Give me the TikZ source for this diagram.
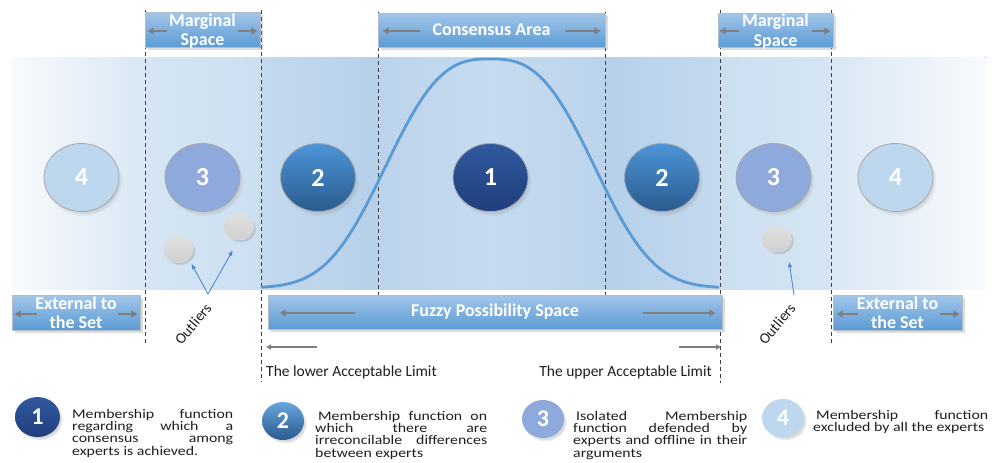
\documentclass[tikz,border=0pt]{standalone}
\usepackage{fontspec}
\setmainfont{Carlito}
\newfontfamily\legendfont[FakeStretch=1.2]{Carlito}
\usetikzlibrary{arrows.meta,shapes.geometric,shadows,fadings,calc}
\tolerance=10000
\hyphenpenalty=10000

% palette
\definecolor{boxtop}{HTML}{A3C6E9}
\definecolor{boxbot}{HTML}{5B9BD5}
\definecolor{boxedge}{HTML}{B4BCC6}
\definecolor{arrowgray}{HTML}{7F7F7F}
\definecolor{dashgray}{HTML}{3F3F3F}
\definecolor{curveblue}{HTML}{5B9BD5}
\definecolor{outblue}{HTML}{4A8BD2}
\definecolor{circedge}{HTML}{A8A8A8}
\definecolor{oneTop}{HTML}{31599F}
\definecolor{oneBot}{HTML}{1F3E7C}
\definecolor{twoTop}{HTML}{4D95D8}
\definecolor{twoBot}{HTML}{2A5B8E}
\definecolor{three}{HTML}{8EA9DB}
\definecolor{four}{HTML}{BDD7EE}
\definecolor{dotTop}{HTML}{E0E0E0}
\definecolor{dotBot}{HTML}{CFCFCF}
\definecolor{txt}{HTML}{1E1E1E}
% band tones
\definecolor{bA}{HTML}{F8FAFD}
\definecolor{bB}{HTML}{D9E7F4}
\definecolor{bC}{HTML}{D5E5F3}
\definecolor{bD}{HTML}{CCDFF1}
\definecolor{bE}{HTML}{C4D9EE}
\definecolor{bF}{HTML}{B6D0EA}
\definecolor{bG}{HTML}{BBD3EB}
\definecolor{bH}{HTML}{C6DBEF}

\begin{document}
\begin{tikzpicture}[x=1pt,y=-1pt,
  boxlabel/.style={draw=boxedge, line width=0.6pt, top color=boxtop, bottom color=boxbot,
    text=white, font=\bfseries\fontsize{18}{19.5}\selectfont, align=center, inner sep=0pt,
    drop shadow={opacity=0.28, shadow xshift=3pt, shadow yshift=-3pt}},
  boxarrow/.style={draw=arrowgray, line width=2.2pt, -{Triangle[length=6pt,width=7pt]}},
  limarrow/.style={draw=arrowgray, line width=1.2pt, -{Triangle[length=5pt,width=5pt]}},
  divider/.style={draw=dashgray, line width=0.9pt, dash pattern=on 4pt off 3pt},
  bigdot/.style={ellipse, minimum width=75pt, minimum height=68pt, inner sep=0pt,
    draw=circedge, line width=0.8pt, text=white, font=\bfseries\fontsize{26}{26}\selectfont,
    circular drop shadow={shadow xshift=2pt, shadow yshift=-3pt, opacity=0.3, shadow scale=1.04}},
  smalldot/.style={ellipse, minimum width=30pt, minimum height=26pt, inner sep=0pt,
    top color=dotTop, bottom color=dotBot, draw=dotTop, line width=0.5pt,
    circular drop shadow={shadow xshift=2pt, shadow yshift=-2pt, opacity=0.3, shadow scale=1.05}},
  outarrow/.style={draw=outblue, line width=0.9pt, -{Triangle[length=5pt,width=4pt]}},
  outtext/.style={rotate=50, text=txt, font=\fontsize{15}{15}\selectfont, inner sep=0pt},
  limtext/.style={text=txt, font=\fontsize{15.5}{16}\selectfont, inner sep=0pt},
  legdot/.style={ellipse, minimum width=42pt, minimum height=38pt, inner sep=0pt,
    text=white, font=\bfseries\fontsize{24}{24}\selectfont,
    circular drop shadow={shadow xshift=2pt, shadow yshift=-2.5pt, opacity=0.3, shadow scale=1.05}},
  legtext/.style={anchor=north west, inner sep=0pt, align=justify, text=txt,
    font=\legendfont\fontsize{13.2}{12.3}\selectfont}
]
\useasboundingbox (0,0) rectangle (1004,463);

% shaded band behind the possibility space
\foreach \xa/\xb/\ca/\cb in {12/145.5/bA/bB, 145.5/262/bC/bD, 262/378/bE/bF, 378/491/bG/bH,
                             491/605/bH/bG, 605/720/bF/bE, 720/831/bD/bC, 831/985/bB/bA}
  \fill[left color=\ca, right color=\cb] (\xa,57) rectangle (\xb+0.6,289);

% dashed dividers
\foreach \x/\ya/\yb in {145.5/10/343, 261.5/10/382, 378/12/295, 605/12/295, 720/10/383, 831/10/343}
  \draw[divider] (\x,\ya) -- (\x,\yb);

% membership curve
\draw[curveblue, line width=2.8pt, line cap=round]
  plot[domain=-228:228, samples=161]
  ({490+\x},{288-229*exp(-(((abs(\x)+0.01)/123)^2.8))});

% membership functions
\node[bigdot, fill=four] (c4l) at (81.5,177.5) {4};
\node[bigdot, fill=three] (c3l) at (202.5,177.5) {3};
\node[bigdot, top color=twoTop, bottom color=twoBot] (c2l) at (318,177.5) {2};
\node[bigdot, top color=oneTop, bottom color=oneBot] (c1) at (490.5,177.5) {1};
\node[bigdot, top color=twoTop, bottom color=twoBot] (c2r) at (662,177.5) {2};
\node[bigdot, fill=three] (c3r) at (773.5,177.5) {3};
\node[bigdot, fill=four] (c4r) at (895.5,177.5) {4};

% outliers
\node[smalldot] (o1) at (178,249.5) {};
\node[smalldot] (o2) at (238.5,227) {};
\node[smalldot] (o3) at (776.5,239) {};
\coordinate (ot1) at (208,294);
\coordinate (ot3) at (794,295);
\draw[outarrow, shorten >=6pt] (ot1) -- (o1.south east);
\draw[outarrow, shorten >=12pt] (ot1) -- (o2.south);
\draw[outarrow, shorten >=14pt] (ot3) -- (o3.south east);
\node[outtext] (outl) at (193,324) {Outliers};
\node[outtext] (outr) at (777,324) {Outliers};

% region labels
\node[boxlabel, text depth=0pt, minimum width=115pt, minimum height=35pt] (msl) at (202.5,29.5) {Marginal\\Space};
\node[boxlabel, minimum width=227pt, minimum height=34pt] (ca) at (491.5,30) {Consensus Area};
\node[boxlabel, text depth=0pt, minimum width=115pt, minimum height=34pt] (msr) at (775.5,30) {Marginal\\Space};
\node[boxlabel, minimum width=128pt, minimum height=35pt] (exl) at (76,312.5) {External to\\the Set};
\node[boxlabel, minimum width=129pt, minimum height=35pt] (exr) at (897.5,312.5) {External to\\the Set};
\node[boxlabel, minimum width=454pt, minimum height=34pt] (fz) at (495,312) {Fuzzy Possibility Space};

% extent arrows inside the labels
\draw[boxarrow] ([shift={(22,1.5)}]msl.west) -- ([shift={(3,1.5)}]msl.west);
\draw[boxarrow] ([shift={(-22,1.5)}]msl.east) -- ([shift={(-3,1.5)}]msl.east);
\draw[boxarrow] ([shift={(42,1)}]ca.west) -- ([shift={(5,1)}]ca.west);
\draw[boxarrow] ([shift={(-40,1)}]ca.east) -- ([shift={(-5,1)}]ca.east);
\draw[boxarrow] ([shift={(21,1)}]msr.west) -- ([shift={(2,1)}]msr.west);
\draw[boxarrow] ([shift={(-21,1)}]msr.east) -- ([shift={(-3,1)}]msr.east);
\draw[boxarrow] ([shift={(25,1.5)}]exl.west) -- ([shift={(3,1.5)}]exl.west);
\draw[boxarrow] ([shift={(-22,1.5)}]exl.east) -- ([shift={(-3,1.5)}]exl.east);
\draw[boxarrow] ([shift={(25,1.5)}]exr.west) -- ([shift={(4,1.5)}]exr.west);
\draw[boxarrow] ([shift={(-22,1.5)}]exr.east) -- ([shift={(-3,1.5)}]exr.east);
\draw[boxarrow] ([shift={(87,1)}]fz.west) -- ([shift={(12,1)}]fz.west);
\draw[boxarrow] ([shift={(-79,1)}]fz.east) -- ([shift={(-7,1)}]fz.east);

% acceptable limits
\coordinate (lowA) at (317,347);
\coordinate (lowB) at (266,347);
\coordinate (upA) at (679,347);
\coordinate (upB) at (721,347);
\draw[limarrow] (lowA) -- (lowB);
\draw[limarrow] (upA) -- (upB);
\node[limtext, anchor=base west] (lowtxt) at (266,376) {The lower Acceptable Limit};
\node[limtext, anchor=base east] (uptxt) at (712,376) {The upper Acceptable Limit};

% key
\node[legdot, minimum width=45pt, minimum height=40pt, top color=oneTop, bottom color=oneBot] (k1) at (37.5,417) {1};
\node[legdot, top color=twoTop!85!white, bottom color=twoBot] (k2) at (283,421) {2};
\node[legdot, fill=three] (k3) at (543,419) {3};
\node[legdot, fill=four] (k4) at (783,418) {4};

\node[legtext, text width=161pt] (d1) at (72,409)
  {Membership function\linebreak regarding which a\linebreak consensus among\linebreak experts is achieved.};
\node[legtext, text width=172pt] (d2) at (315,411)
  {\hspace*{3pt}Membership function on\linebreak which there are\linebreak irreconcilable differences\linebreak between experts};
\node[legtext, text width=174pt] (d3) at (573,411)
  {\hspace*{3pt}Isolated Membership\linebreak function defended by\linebreak experts and offline in their\linebreak arguments};
\node[legtext, text width=175pt] (d4) at (813,410)
  {\hspace*{3pt}Membership function\linebreak excluded by all the experts};
\end{tikzpicture}
\end{document}
